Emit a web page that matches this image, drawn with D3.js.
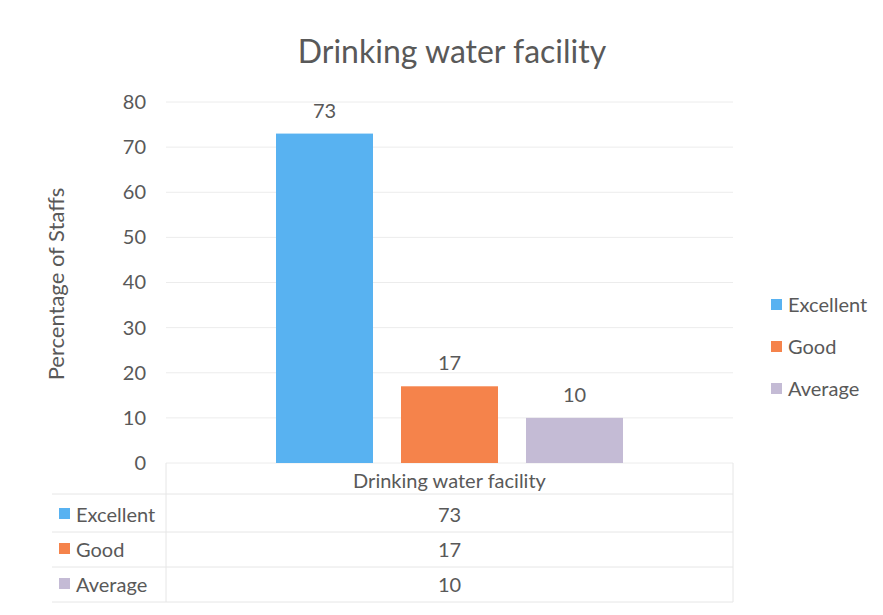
<!DOCTYPE html>
<html><head><meta charset="utf-8">
<script src="https://cdn.jsdelivr.net/npm/d3@7"></script>
<style>body{margin:0;background:#fff}svg{display:block}text{font-family:Lato,"Open Sans",sans-serif;fill:#595959}</style>
</head><body>
<svg id="c" width="883" height="615"></svg>
<script>
const title = "Drinking water facility";
const category = "Drinking water facility";
const series = ["Excellent", "Good", "Average"];
const values = [73, 17, 10];
const colors = ["#58b2f1", "#f5834b", "#c4bbd5"];
const yTicks = [0, 10, 20, 30, 40, 50, 60, 70, 80];
const yLabel = "Percentage of Staffs";

const svg = d3.select("#c");
const plotL = 166, plotR = 733, plotT = 102, plotB = 463;
const fs = 20;
const y = d3.scaleLinear().domain([0, 80]).range([plotB, plotT]);
const xCat = d3.scaleBand().domain([category]).range([plotL, plotR]).paddingInner(0).paddingOuter(0.317);
const xs = d3.scaleBand().domain(series).range([xCat(category), xCat(category) + xCat.bandwidth()]).paddingInner(0.224);

svg.append("text").attr("x", 452).attr("y", 63).attr("text-anchor", "middle")
  .attr("font-size", 32).text(title);

// gridlines
svg.append("g").selectAll("line").data(yTicks).join("line")
  .attr("x1", plotL).attr("x2", plotR).attr("y1", d => y(d)).attr("y2", d => y(d))
  .attr("stroke", "#ececec").attr("stroke-width", 1);

// y axis
const ya = svg.append("g").attr("transform", `translate(${plotL},0)`)
  .call(d3.axisLeft(y).tickValues(yTicks).tickSize(0).tickPadding(20));
ya.select(".domain").remove();
ya.selectAll("text").attr("font-size", fs).style("font-family", "Lato,'Open Sans',sans-serif").attr("fill", "#595959");

svg.append("text").attr("transform", "translate(64,284) rotate(-90)").attr("text-anchor", "middle")
  .attr("font-size", 22).text(yLabel);

// bars
svg.append("g").selectAll("rect").data(series).join("rect")
  .attr("x", d => xs(d)).attr("width", xs.bandwidth())
  .attr("y", (d, i) => y(values[i])).attr("height", (d, i) => plotB - y(values[i]))
  .attr("fill", (d, i) => colors[i]);

svg.append("g").selectAll("text").data(series).join("text")
  .attr("x", d => xs(d) + xs.bandwidth() / 2).attr("y", (d, i) => y(values[i]) - 16)
  .attr("text-anchor", "middle").attr("font-size", fs).text((d, i) => values[i]);

// data table
const rowY = [532, 567, 602];
const tl = svg.append("g").attr("stroke", "#e6e6e6").attr("stroke-width", 1);
tl.append("line").attr("x1", plotL).attr("x2", plotL).attr("y1", plotB).attr("y2", 602);
tl.append("line").attr("x1", plotR).attr("x2", plotR).attr("y1", plotB).attr("y2", 602);
tl.append("line").attr("x1", 52).attr("x2", plotR).attr("y1", 494).attr("y2", 494);
rowY.forEach(ry => tl.append("line").attr("x1", 52).attr("x2", plotR).attr("y1", ry).attr("y2", ry));

svg.append("text").attr("x", xCat(category) + xCat.bandwidth() / 2).attr("y", 488)
  .attr("text-anchor", "middle").attr("font-size", fs).text(category);

const rows = svg.append("g").selectAll("g").data(series).join("g")
  .attr("transform", (d, i) => `translate(0,${515 + i * 35})`);
rows.append("rect").attr("x", 59).attr("y", -7).attr("width", 11).attr("height", 11).attr("fill", (d, i) => colors[i]);
rows.append("text").attr("x", 76).attr("y", 7).attr("font-size", fs).text(d => d);
rows.append("text").attr("x", xCat(category) + xCat.bandwidth() / 2).attr("y", 7)
  .attr("text-anchor", "middle").attr("font-size", fs).text((d, i) => values[i]);

// legend
const lg = svg.append("g").selectAll("g").data(series).join("g")
  .attr("transform", (d, i) => `translate(0,${305 + i * 42})`);
lg.append("rect").attr("x", 771).attr("y", -6).attr("width", 11).attr("height", 11).attr("fill", (d, i) => colors[i]);
lg.append("text").attr("x", 788).attr("y", 7).attr("font-size", fs).text(d => d);
</script>
</body></html>
